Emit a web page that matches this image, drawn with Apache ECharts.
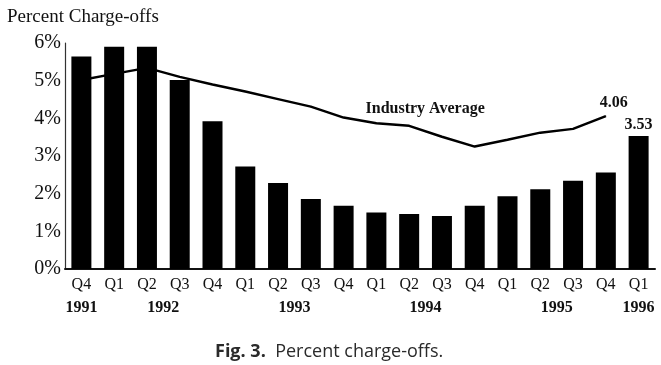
<!DOCTYPE html>
<html>
<head>
<meta charset="utf-8">
<script src="https://cdn.jsdelivr.net/npm/echarts@6/dist/echarts.min.js"></script>
<style>html,body{margin:0;padding:0;background:#fff}#c{width:661px;height:365px}</style>
</head>
<body>
<div id="c"></div>
<script>
var quarters = ['Q4','Q1','Q2','Q3','Q4','Q1','Q2','Q3','Q4','Q1','Q2','Q3','Q4','Q1','Q2','Q3','Q4','Q1'];
var yearOf = ['1991','1992','1992','1992','1992','1993','1993','1993','1993','1994','1994','1994','1994','1995','1995','1995','1995','1996'];
var chargeOffs = [5.64, 5.90, 5.90, 5.02, 3.92, 2.72, 2.28, 1.86, 1.68, 1.50, 1.46, 1.41, 1.68, 1.93, 2.12, 2.34, 2.56, 3.53];
var industryAvg = [5.02, 5.18, 5.34, 5.10, 4.90, 4.71, 4.51, 4.31, 4.02, 3.87, 3.80, 3.51, 3.25, 3.43, 3.62, 3.72, 4.06, null];
var yTicks = [0, 1, 2, 3, 4, 5, 6];

var serif = '"Liberation Serif", "DejaVu Serif", serif';
var sans = '"Open Sans", "Noto Sans", sans-serif';

// year label centres: mean category index of each year's quarters
var yearCenters = {};
(function () {
  var acc = {};
  yearOf.forEach(function (y, i) {
    acc[y] = acc[y] || { s: 0, n: 0 };
    acc[y].s += i; acc[y].n += 1;
  });
  Object.keys(acc).forEach(function (y) { yearCenters[y] = acc[y].s / acc[y].n; });
})();

var boldLbl = { fontFamily: serif, fontWeight: 'bold', fontSize: 16, color: '#111' };

var barData = chargeOffs.map(function (v, i) {
  if (i === chargeOffs.length - 1) {
    return { value: v, label: Object.assign({ show: true, position: 'top', distance: 3,
      formatter: function (p) { return p.value.toFixed(2); } }, boldLbl) };
  }
  return v;
});
var lineData = industryAvg.map(function (v, i) {
  if (i === 10) {
    return { value: v, label: Object.assign({ show: true, position: 'top', distance: 9, offset: [16, 0],
      formatter: 'Industry Average' }, boldLbl) };
  }
  if (i === 16) {
    return { value: v, label: Object.assign({ show: true, position: 'top', distance: 5, offset: [8, 0],
      formatter: function (p) { return p.value.toFixed(2); } }, boldLbl) };
  }
  return v;
});

var chart = echarts.init(document.getElementById('c'), null, { renderer: 'canvas' });
chart.setOption({
  animation: false,
  backgroundColor: '#fff',
  title: [
    { text: 'Percent Charge-offs', left: 2, top: 3, textStyle: { fontFamily: serif, fontWeight: 'normal', fontSize: 19, color: '#111' } },
    { text: '{b|Fig. 3.}  Percent charge-offs.', left: 210, top: 338,
      textStyle: { fontFamily: sans, fontWeight: 'normal', fontSize: 18, color: '#2a2a2a',
        rich: { b: { fontFamily: sans, fontWeight: 'bold', fontSize: 18, color: '#2a2a2a' } } } }
  ],
  grid: { left: 65, right: 6, top: 43, bottom: 96, containLabel: false },
  xAxis: [
    { type: 'category', data: quarters, boundaryGap: true,
      axisLine: { show: true, lineStyle: { color: '#111', width: 2 } },
      axisTick: { show: false },
      axisLabel: { interval: 0, margin: 8, fontFamily: serif, fontSize: 16, color: '#111' } },
    { type: 'value', position: 'bottom', offset: 23, min: -0.5, max: 17.5, interval: 0.5,
      axisLine: { show: false }, axisTick: { show: false }, splitLine: { show: false },
      axisLabel: { margin: 8, showMinLabel: true, showMaxLabel: true, fontFamily: serif, fontWeight: 'bold', fontSize: 16, color: '#111',
        formatter: function (v) {
          for (var y in yearCenters) { if (Math.abs(yearCenters[y] - v) < 1e-6) return y; }
          return '';
        } } }
  ],
  yAxis: {
    type: 'value', min: yTicks[0], max: yTicks[yTicks.length - 1], interval: 1,
    axisLine: { show: true, onZero: false, lineStyle: { color: '#333', width: 1.2 } },
    axisTick: { show: false }, splitLine: { show: false },
    axisLabel: { margin: 4, fontFamily: serif, fontSize: 20, color: '#111', formatter: '{value}%' }
  },
  series: [
    { type: 'bar', xAxisIndex: 0, data: barData, barWidth: 20, itemStyle: { color: '#000' }, z: 3 },
    { type: 'line', xAxisIndex: 0, data: lineData, symbol: 'circle', symbolSize: 1, showSymbol: true,
      itemStyle: { color: '#000' }, lineStyle: { color: '#000', width: 2.5 }, z: 2 }
  ]
});
</script>
</body>
</html>
